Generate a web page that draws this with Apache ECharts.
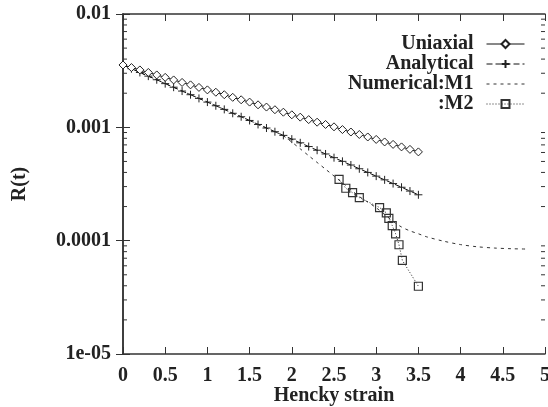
<!DOCTYPE html>
<html>
<head>
<meta charset="utf-8">
<script src="https://cdn.jsdelivr.net/npm/echarts@6/dist/echarts.min.js"></script>
<style>
  html, body { margin: 0; padding: 0; background: #fff; }
  #chart { width: 548px; height: 407px; }
</style>
</head>
<body>
<div id="chart"></div>
<script>
// Hencky strain sample points shared by the Uniaxial and Analytical curves
const strain = [0, 0.1, 0.2, 0.3, 0.4, 0.5, 0.6, 0.7, 0.8, 0.9, 1.0, 1.1, 1.2, 1.3, 1.4, 1.5, 1.6, 1.7,
  1.8, 1.9, 2.0, 2.1, 2.2, 2.3, 2.4, 2.5, 2.6, 2.7, 2.8, 2.9, 3.0, 3.1, 3.2, 3.3, 3.4, 3.5];

const uniaxial = [0.00355, 0.00337, 0.00321, 0.00305, 0.00290, 0.00276, 0.00262, 0.00249, 0.00237,
  0.00225, 0.00214, 0.00204, 0.00194, 0.00184, 0.00175, 0.00167, 0.00158, 0.00151, 0.00143, 0.00136,
  0.00129, 0.00123, 0.00117, 0.00111, 0.00106, 0.00101, 0.000956, 0.000909, 0.000865, 0.000822,
  0.000782, 0.000743, 0.000707, 0.000672, 0.000639, 0.000607];

const analytical = [0.00355, 0.00329, 0.00305, 0.00283, 0.00263, 0.00243, 0.00226, 0.00209, 0.00194,
  0.00180, 0.00167, 0.00155, 0.00144, 0.00133, 0.00124, 0.00115, 0.00106, 0.000986, 0.000915,
  0.000849, 0.000787, 0.000730, 0.000677, 0.000628, 0.000582, 0.000540, 0.000501, 0.000465,
  0.000431, 0.000400, 0.000371, 0.000344, 0.000319, 0.000296, 0.000274, 0.000254];

// Numerical model M1 (continuous curve)
const m1Strain = [0, 0.5, 1.0, 1.5, 1.8, 1.9, 2.0, 2.1, 2.2, 2.3, 2.4, 2.5, 2.6, 2.7, 2.8, 2.9, 3.0,
  3.1, 3.2, 3.3, 3.4, 3.5, 3.6, 3.8, 4.0, 4.2, 4.4, 4.6, 4.8];
const m1 = [0.00355, 0.00243, 0.00167, 0.00115, 0.000915, 0.000841, 0.000741, 0.000646, 0.000562,
  0.000490, 0.000427, 0.000372, 0.000324, 0.000282, 0.000245, 0.000219, 0.000195, 0.000170,
  0.000148, 0.000132, 0.000122, 0.000115, 0.000108, 0.0000989, 0.0000923, 0.0000883, 0.0000861,
  0.0000849, 0.0000843];

// Numerical model M2 (discrete points)
const m2Strain = [2.56, 2.64, 2.72, 2.80, 3.04, 3.12, 3.15, 3.19, 3.23, 3.27, 3.31, 3.5];
const m2 = [0.000347, 0.000290, 0.000265, 0.000240, 0.000196, 0.000176, 0.000157, 0.000136,
  0.000115, 0.000092, 0.000067, 0.0000396];

const seriesNames = ['Uniaxial', 'Analytical', 'Numerical:M1', ':M2'];
const yTickLabels = { '-2': '0.01', '-3': '0.001', '-4': '0.0001', '-5': '1e-05' };
const xTitle = 'Hencky strain';
const yTitle = 'R(t)';

const zip = (xs, ys) => xs.map((x, i) => [x, ys[i]]);

// minor tick values of the logarithmic R(t) axis (2..9 within each decade)
const minorTickValues = [];
[1e-5, 1e-4, 1e-3].forEach(d => {
  for (let k = 2; k <= 9; k++) minorTickValues.push(+(k * d).toPrecision(3));
});

const serif = 'Liberation Serif';
const ink = '#222';
const tickColor = '#333';
const frame = { show: true, lineStyle: { color: tickColor, width: 1.5 } };
const titleFont = { fontFamily: serif, fontWeight: 'bold', fontSize: 20, color: ink };

function yAxisDef(position, withLabels) {
  return {
    type: 'log', logBase: 10, min: 1e-5, max: 0.01, position: position,
    axisLine: frame, splitLine: { show: false },
    axisTick: { show: true, inside: true, length: 7, lineStyle: { color: tickColor } },
    axisLabel: withLabels ? Object.assign({
      show: true, margin: 12,
      formatter: v => yTickLabels[String(Math.round(Math.log10(v)))] || ''
    }, titleFont) : { show: false },
    name: withLabels ? yTitle : '',
    nameLocation: 'middle', nameGap: 93, nameRotate: 90, nameMoveOverlap: false,
    nameTextStyle: titleFont
  };
}

function xAxisDef(position, withLabels) {
  return {
    type: 'value', min: 0, max: 5, interval: 0.5, position: position,
    axisLine: frame, splitLine: { show: false },
    axisTick: { show: true, inside: true, length: 7, lineStyle: { color: tickColor } },
    axisLabel: withLabels ? Object.assign({ show: true, margin: 12 }, titleFont) : { show: false },
    name: withLabels ? xTitle : '',
    nameLocation: 'middle', nameGap: 32, nameMoveOverlap: false,
    nameTextStyle: titleFont
  };
}

const plusSymbol = 'path://M0,5L10,5M5,0L5,10';

// short inward minor ticks on both vertical borders, placed through the y scale
function renderMinorTick(params, api) {
  const cs = params.coordSys;
  const p = api.coord([0, api.value(0)]);
  const len = 4;
  const style = { stroke: tickColor, lineWidth: 1 };
  return {
    type: 'group',
    children: [
      { type: 'line', shape: { x1: cs.x, y1: p[1], x2: cs.x + len, y2: p[1] }, style: style },
      { type: 'line', shape: { x1: cs.x + cs.width, y1: p[1], x2: cs.x + cs.width - len, y2: p[1] }, style: style }
    ]
  };
}

const chart = echarts.init(document.getElementById('chart'), null, { renderer: 'canvas' });
chart.setOption({
  animation: false,
  backgroundColor: '#fff',
  grid: { left: 123, right: 3, top: 14, bottom: 53, containLabel: false, outerBoundsMode: 'none' },
  legend: {
    orient: 'vertical', align: 'right', right: 23, top: 34, padding: 0,
    itemWidth: 38, itemHeight: 10, itemGap: 0,
    lineStyle: { width: 1 },
    data: [
      { name: seriesNames[0] },
      { name: seriesNames[1] },
      { name: seriesNames[2], itemStyle: { color: 'transparent', borderColor: 'transparent' } },
      { name: seriesNames[3] }
    ],
    textStyle: Object.assign({ lineHeight: 20, padding: [0, 8, 0, 0] }, titleFont)
  },
  xAxis: [xAxisDef('bottom', true), xAxisDef('top', false)],
  yAxis: [yAxisDef('left', true), yAxisDef('right', false)],
  series: [
    {
      type: 'custom', name: 'minorTicks', coordinateSystem: 'cartesian2d',
      xAxisIndex: 0, yAxisIndex: 0, silent: true,
      data: minorTickValues.map(v => [v]),
      encode: { y: 0 },
      renderItem: renderMinorTick,
      clip: false, z: 1
    },
    {
      name: seriesNames[0], type: 'line', data: zip(strain, uniaxial),
      symbol: 'diamond', symbolSize: [8, 8],
      lineStyle: { color: '#111', width: 1, type: 'solid' },
      itemStyle: { color: '#fff', borderColor: '#222', borderWidth: 1 },
      z: 4
    },
    {
      name: seriesNames[1], type: 'line', data: zip(strain, analytical),
      symbol: plusSymbol, symbolSize: 8,
      lineStyle: { color: '#111', width: 1, type: [6, 3] },
      itemStyle: { color: 'transparent', borderColor: '#222', borderWidth: 1 },
      z: 3
    },
    {
      name: seriesNames[2], type: 'line', data: zip(m1Strain, m1),
      symbol: 'none', smooth: 0.3,
      lineStyle: { color: '#333', width: 1, type: [3, 4] },
      itemStyle: { color: 'transparent', borderColor: 'transparent' },
      z: 2
    },
    {
      name: seriesNames[3], type: 'line', data: zip(m2Strain, m2),
      symbol: 'rect', symbolSize: 8,
      lineStyle: { color: '#222', width: 1, type: [1, 2] },
      itemStyle: { color: 'transparent', borderColor: '#333', borderWidth: 1.2 },
      z: 5
    }
  ]
});
</script>
</body>
</html>
